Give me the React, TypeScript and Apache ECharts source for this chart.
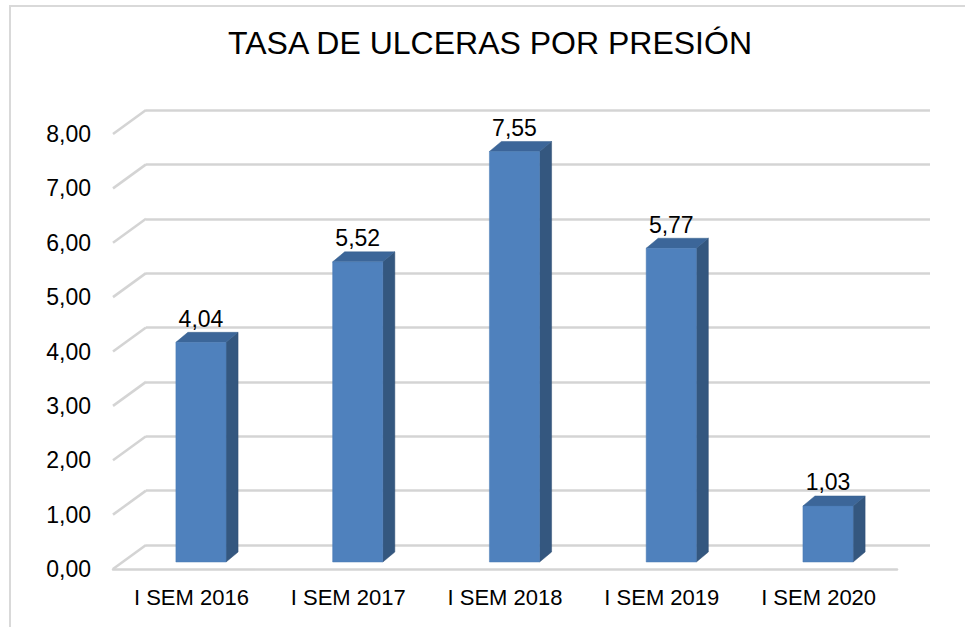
import React, { useEffect, useRef } from "react";
import * as echarts from "echarts";

const TITLE = "TASA DE ULCERAS POR PRESIÓN";
const categories = ["I SEM 2016", "I SEM 2017", "I SEM 2018", "I SEM 2019", "I SEM 2020"];
const values = [4.04, 5.52, 7.55, 5.77, 1.03];
const yTicks = [0, 1, 2, 3, 4, 5, 6, 7, 8];

const fmt = (v: number) => v.toFixed(2).replace(".", ",");
const FONT = "'Liberation Sans', Arial, sans-serif";

export default function App() {
  const ref = useRef<HTMLDivElement>(null);
  useEffect(() => {
    if (!ref.current) return;
    const chart = echarts.init(ref.current, null, { renderer: "svg" });
    const DX = 33, DY = -24; // full depth
    const BDX = 12, BDY = -10; // bar depth
    const option: any = {
      animation: false,
      backgroundColor: "#ffffff",
      graphic: [
        {
          type: "polyline",
          shape: { points: [[10, 640], [10, 6], [970, 6]] },
          style: { stroke: "#D9D9D9", lineWidth: 2, fill: "none" },
          z: 0,
        },
        {
          type: "text",
          x: 490,
          y: 43,
          style: {
            text: TITLE,
            fontSize: 32,
            fontFamily: FONT,
            fill: "#000000",
            align: "center",
            verticalAlign: "middle",
          },
        },
      ],
      grid: [
        { left: 122.6, right: 58.6, top: 127, bottom: 65 }, // bar plane
        { left: 146, right: 35, top: 110, bottom: 82 }, // back wall
        { left: 113, right: 68, top: 134, bottom: 58 }, // front plane
      ],
      xAxis: [
        { gridIndex: 0, type: "category", data: categories, show: false },
        { gridIndex: 1, type: "category", data: categories, show: false },
        {
          gridIndex: 2,
          type: "category",
          data: categories,
          axisLine: { show: true, lineStyle: { color: "#D4D4D4", width: 2.5 } },
          axisTick: { show: false },
          axisLabel: { margin: 17, fontSize: 22, fontFamily: FONT, color: "#000" },
        },
      ],
      yAxis: [
        { gridIndex: 0, type: "value", min: 0, max: 8, interval: 1, show: false },
        {
          gridIndex: 1,
          type: "value",
          min: 0,
          max: 8,
          interval: 1,
          axisLine: { show: false },
          axisTick: { show: false },
          axisLabel: { show: false },
          splitLine: { show: true, lineStyle: { color: "#D4D4D4", width: 2.5 } },
        },
        {
          gridIndex: 2,
          type: "value",
          min: 0,
          max: 8,
          interval: 1,
          axisLine: { show: false },
          axisTick: { show: false },
          splitLine: { show: false },
          axisLabel: { margin: 22, fontSize: 23, fontFamily: FONT, color: "#000", formatter: fmt },
        },
      ],
      series: [
        {
          type: "custom",
          xAxisIndex: 2,
          yAxisIndex: 2,
          data: yTicks.map((t) => [0, t]),
          encode: { x: 0, y: 1 },
          z: 1,
          renderItem: (params: any, api: any) => {
            const y = api.coord([0, api.value(1)])[1];
            const x = params.coordSys.x;
            return {
              type: "line",
              shape: { x1: x, y1: y, x2: x + DX, y2: y + DY },
              style: { stroke: "#D4D4D4", lineWidth: 2.5 },
            };
          },
        },
        {
          type: "custom",
          xAxisIndex: 0,
          yAxisIndex: 0,
          data: values.map((v, i) => [i, v]),
          encode: { x: 0, y: 1 },
          z: 3,
          renderItem: (params: any, api: any) => {
            const v = api.value(1);
            const top = api.coord([api.value(0), v]);
            const bot = api.coord([api.value(0), 0]);
            const w = api.size([1, 0])[0] * 0.32;
            const x0 = top[0] - w / 2;
            const x1 = top[0] + w / 2;
            const yt = top[1];
            const yb = bot[1];
            return {
              type: "group",
              children: [
                {
                  type: "polygon",
                  shape: { points: [[x1, yt], [x1 + BDX, yt + BDY], [x1 + BDX, yb + BDY], [x1, yb]] },
                  style: { fill: "#34577F", stroke: "#2E4D72", lineWidth: 0.5 },
                },
                {
                  type: "polygon",
                  shape: { points: [[x0, yt], [x0 + BDX, yt + BDY], [x1 + BDX, yt + BDY], [x1, yt]] },
                  style: { fill: "#3C6699", stroke: "#36608F", lineWidth: 0.5 },
                },
                {
                  type: "rect",
                  shape: { x: x0, y: yt, width: w, height: yb - yt },
                  style: { fill: "#4F81BD", stroke: "#4A7AB3", lineWidth: 0.5 },
                },
                {
                  type: "text",
                  style: {
                    text: fmt(v),
                    x: top[0],
                    y: yt - 12,
                    align: "center",
                    verticalAlign: "bottom",
                    textAlign: "center",
                    textVerticalAlign: "bottom",
                    fontSize: 23,
                    fontFamily: FONT,
                    fill: "#000",
                  },
                },
              ],
            };
          },
        },
      ],
    };
    chart.setOption(option);
    return () => chart.dispose();
  }, []);
  return <div ref={ref} style={{ width: 965, height: 627, position: "absolute", left: 0, top: 0 }} />;
}
